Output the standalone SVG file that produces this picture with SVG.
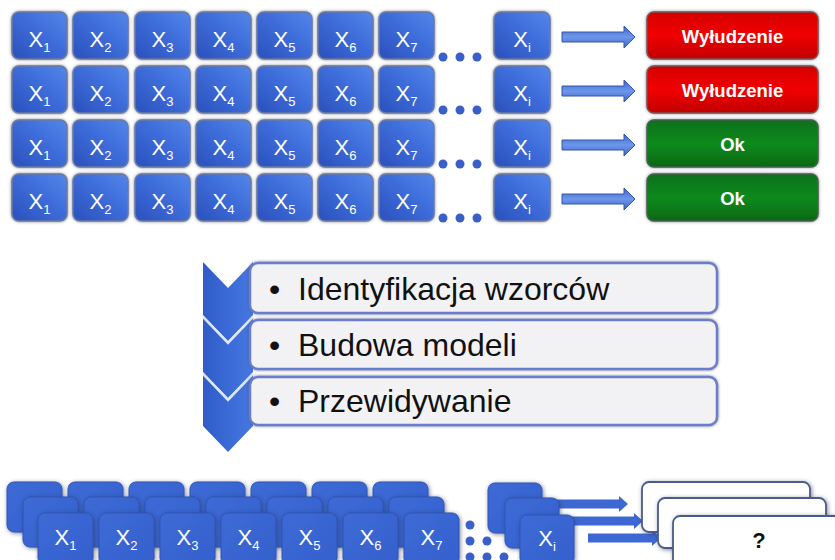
<svg xmlns="http://www.w3.org/2000/svg" width="835" height="560" viewBox="0 0 835 560">
<defs>
<linearGradient id="gBlue" x1="0" y1="1" x2="1" y2="0"><stop offset="0" stop-color="#2a50bc"/><stop offset="0.6" stop-color="#3f6fdc"/><stop offset="1" stop-color="#5486ea"/></linearGradient>
<linearGradient id="gBlue2" x1="0" y1="0" x2="1" y2="1"><stop offset="0" stop-color="#3d6ad6"/><stop offset="1" stop-color="#3460cc"/></linearGradient>
<linearGradient id="gRed" x1="0" y1="0" x2="0" y2="1"><stop offset="0" stop-color="#d40000"/><stop offset="0.5" stop-color="#f20000"/><stop offset="1" stop-color="#c00000"/></linearGradient>
<linearGradient id="gGreen" x1="0" y1="0" x2="0" y2="1"><stop offset="0" stop-color="#08701a"/><stop offset="0.5" stop-color="#0b8a1f"/><stop offset="1" stop-color="#066814"/></linearGradient>
<linearGradient id="gArrow" x1="0" y1="0" x2="0" y2="1"><stop offset="0" stop-color="#3e66c8"/><stop offset="0.5" stop-color="#6d97ec"/><stop offset="1" stop-color="#3e66c8"/></linearGradient>
<linearGradient id="gChev" x1="0" y1="0" x2="1" y2="0"><stop offset="0" stop-color="#2f5cc8"/><stop offset="1" stop-color="#4678e2"/></linearGradient>
<filter id="sh" x="-20%" y="-20%" width="140%" height="140%"><feDropShadow dx="0" dy="0" stdDeviation="1.6" flood-color="#404a60" flood-opacity="0.7"/></filter>
<filter id="sh2" x="-20%" y="-20%" width="140%" height="140%"><feDropShadow dx="1" dy="1" stdDeviation="2" flood-color="#303850" flood-opacity="0.6"/></filter>
</defs>
<style>
.bx{fill:url(#gBlue);stroke:#6c7aa0;stroke-width:1.5;filter:url(#sh)}
.bb{fill:url(#gBlue2);stroke:#2f55b8;stroke-width:1;filter:url(#sh2)}
.xt{font-family:"Liberation Sans",Arial,sans-serif;font-size:22px;fill:#fff;text-anchor:middle}
.sb{font-size:13px}
.red{fill:url(#gRed);stroke:#7a5050;stroke-width:1.5;filter:url(#sh)}
.grn{fill:url(#gGreen);stroke:#4a604a;stroke-width:1.5;filter:url(#sh)}
.rt{font-family:"Liberation Sans",Arial,sans-serif;font-size:18.5px;font-weight:bold;fill:#fff;text-anchor:middle}
.dot{fill:#3a5fc8}
.arr{fill:url(#gArrow);stroke:#3556a8;stroke-width:1}
.barr{fill:#3d68d4}
.lst{fill:#f2f2f4;stroke:#6a7ccc;stroke-width:2.5;filter:url(#sh)}
.lt{font-family:"Liberation Sans",Arial,sans-serif;font-size:32px;fill:#111}
.chev{fill:url(#gChev)}
.sep{fill:none;stroke:#dde6f8;stroke-width:2.5}
.wb{fill:#fff;stroke:#4a5c8c;stroke-width:1.8;filter:url(#sh2)}
.q{font-family:"Liberation Sans",Arial,sans-serif;font-size:22px;font-weight:bold;fill:#111;text-anchor:middle}
</style>
<rect width="835" height="560" fill="#ffffff"/>

<g id="connectors">
<polygon class="arr" points="562,32 624,32 624,26 635,37 624,48 624,42 562,42"/>
<polygon class="arr" points="562,86 624,86 624,80 635,91 624,102 624,96 562,96"/>
<polygon class="arr" points="562,140 624,140 624,134 635,145 624,156 624,150 562,150"/>
<polygon class="arr" points="562,194 624,194 624,188 635,199 624,210 624,204 562,204"/>
<polygon class="barr" points="540,499.5 619,499.5 619,496 628,504 619,512 619,508.5 540,508.5"/>
<polygon class="barr" points="555,516.5 634,516.5 634,513 643,521 634,529 634,525.5 555,525.5"/>
<polygon class="barr" points="588,533.5 652,533.5 652,530 661,538 652,546 652,542.5 588,542.5"/>
</g>

<g id="row1">
<g id="r1c1"><rect class="bx" x="12" y="12" width="55" height="47" rx="7"/><text class="xt" x="39.5" y="47">X<tspan class="sb" dy="5">1</tspan></text></g>
<g id="r1c2"><rect class="bx" x="73" y="12" width="55" height="47" rx="7"/><text class="xt" x="100.5" y="47">X<tspan class="sb" dy="5">2</tspan></text></g>
<g id="r1c3"><rect class="bx" x="135" y="12" width="55" height="47" rx="7"/><text class="xt" x="162.5" y="47">X<tspan class="sb" dy="5">3</tspan></text></g>
<g id="r1c4"><rect class="bx" x="196" y="12" width="55" height="47" rx="7"/><text class="xt" x="223.5" y="47">X<tspan class="sb" dy="5">4</tspan></text></g>
<g id="r1c5"><rect class="bx" x="257" y="12" width="55" height="47" rx="7"/><text class="xt" x="284.5" y="47">X<tspan class="sb" dy="5">5</tspan></text></g>
<g id="r1c6"><rect class="bx" x="318" y="12" width="55" height="47" rx="7"/><text class="xt" x="345.5" y="47">X<tspan class="sb" dy="5">6</tspan></text></g>
<g id="r1c7"><rect class="bx" x="379" y="12" width="55" height="47" rx="7"/><text class="xt" x="406.5" y="47">X<tspan class="sb" dy="5">7</tspan></text></g>
<g id="r1dots"><circle class="dot" cx="443" cy="57" r="4.5"/><circle class="dot" cx="460" cy="57" r="4.5"/><circle class="dot" cx="477" cy="57" r="4.5"/></g>
<g id="r1ci"><rect class="bx" x="494" y="12" width="56" height="47" rx="7"/><text class="xt" x="522" y="47">X<tspan class="sb" dy="5">i</tspan></text></g>
<g id="r1res"><rect class="red" x="647" y="12" width="171" height="47" rx="7"/><text class="rt" x="732.5" y="43">Wyłudzenie</text></g>
</g>

<g id="row2">
<g id="r2c1"><rect class="bx" x="12" y="66" width="55" height="47" rx="7"/><text class="xt" x="39.5" y="101">X<tspan class="sb" dy="5">1</tspan></text></g>
<g id="r2c2"><rect class="bx" x="73" y="66" width="55" height="47" rx="7"/><text class="xt" x="100.5" y="101">X<tspan class="sb" dy="5">2</tspan></text></g>
<g id="r2c3"><rect class="bx" x="135" y="66" width="55" height="47" rx="7"/><text class="xt" x="162.5" y="101">X<tspan class="sb" dy="5">3</tspan></text></g>
<g id="r2c4"><rect class="bx" x="196" y="66" width="55" height="47" rx="7"/><text class="xt" x="223.5" y="101">X<tspan class="sb" dy="5">4</tspan></text></g>
<g id="r2c5"><rect class="bx" x="257" y="66" width="55" height="47" rx="7"/><text class="xt" x="284.5" y="101">X<tspan class="sb" dy="5">5</tspan></text></g>
<g id="r2c6"><rect class="bx" x="318" y="66" width="55" height="47" rx="7"/><text class="xt" x="345.5" y="101">X<tspan class="sb" dy="5">6</tspan></text></g>
<g id="r2c7"><rect class="bx" x="379" y="66" width="55" height="47" rx="7"/><text class="xt" x="406.5" y="101">X<tspan class="sb" dy="5">7</tspan></text></g>
<g id="r2dots"><circle class="dot" cx="443" cy="110" r="4.5"/><circle class="dot" cx="460" cy="110" r="4.5"/><circle class="dot" cx="477" cy="110" r="4.5"/></g>
<g id="r2ci"><rect class="bx" x="494" y="66" width="56" height="47" rx="7"/><text class="xt" x="522" y="101">X<tspan class="sb" dy="5">i</tspan></text></g>
<g id="r2res"><rect class="red" x="647" y="66" width="171" height="47" rx="7"/><text class="rt" x="732.5" y="97">Wyłudzenie</text></g>
</g>

<g id="row3">
<g id="r3c1"><rect class="bx" x="12" y="120" width="55" height="47" rx="7"/><text class="xt" x="39.5" y="155">X<tspan class="sb" dy="5">1</tspan></text></g>
<g id="r3c2"><rect class="bx" x="73" y="120" width="55" height="47" rx="7"/><text class="xt" x="100.5" y="155">X<tspan class="sb" dy="5">2</tspan></text></g>
<g id="r3c3"><rect class="bx" x="135" y="120" width="55" height="47" rx="7"/><text class="xt" x="162.5" y="155">X<tspan class="sb" dy="5">3</tspan></text></g>
<g id="r3c4"><rect class="bx" x="196" y="120" width="55" height="47" rx="7"/><text class="xt" x="223.5" y="155">X<tspan class="sb" dy="5">4</tspan></text></g>
<g id="r3c5"><rect class="bx" x="257" y="120" width="55" height="47" rx="7"/><text class="xt" x="284.5" y="155">X<tspan class="sb" dy="5">5</tspan></text></g>
<g id="r3c6"><rect class="bx" x="318" y="120" width="55" height="47" rx="7"/><text class="xt" x="345.5" y="155">X<tspan class="sb" dy="5">6</tspan></text></g>
<g id="r3c7"><rect class="bx" x="379" y="120" width="55" height="47" rx="7"/><text class="xt" x="406.5" y="155">X<tspan class="sb" dy="5">7</tspan></text></g>
<g id="r3dots"><circle class="dot" cx="443" cy="164" r="4.5"/><circle class="dot" cx="460" cy="164" r="4.5"/><circle class="dot" cx="477" cy="164" r="4.5"/></g>
<g id="r3ci"><rect class="bx" x="494" y="120" width="56" height="47" rx="7"/><text class="xt" x="522" y="155">X<tspan class="sb" dy="5">i</tspan></text></g>
<g id="r3res"><rect class="grn" x="647" y="120" width="171" height="47" rx="7"/><text class="rt" x="732.5" y="151">Ok</text></g>
</g>

<g id="row4">
<g id="r4c1"><rect class="bx" x="12" y="174" width="55" height="47" rx="7"/><text class="xt" x="39.5" y="209">X<tspan class="sb" dy="5">1</tspan></text></g>
<g id="r4c2"><rect class="bx" x="73" y="174" width="55" height="47" rx="7"/><text class="xt" x="100.5" y="209">X<tspan class="sb" dy="5">2</tspan></text></g>
<g id="r4c3"><rect class="bx" x="135" y="174" width="55" height="47" rx="7"/><text class="xt" x="162.5" y="209">X<tspan class="sb" dy="5">3</tspan></text></g>
<g id="r4c4"><rect class="bx" x="196" y="174" width="55" height="47" rx="7"/><text class="xt" x="223.5" y="209">X<tspan class="sb" dy="5">4</tspan></text></g>
<g id="r4c5"><rect class="bx" x="257" y="174" width="55" height="47" rx="7"/><text class="xt" x="284.5" y="209">X<tspan class="sb" dy="5">5</tspan></text></g>
<g id="r4c6"><rect class="bx" x="318" y="174" width="55" height="47" rx="7"/><text class="xt" x="345.5" y="209">X<tspan class="sb" dy="5">6</tspan></text></g>
<g id="r4c7"><rect class="bx" x="379" y="174" width="55" height="47" rx="7"/><text class="xt" x="406.5" y="209">X<tspan class="sb" dy="5">7</tspan></text></g>
<g id="r4dots"><circle class="dot" cx="443" cy="218" r="4.5"/><circle class="dot" cx="460" cy="218" r="4.5"/><circle class="dot" cx="477" cy="218" r="4.5"/></g>
<g id="r4ci"><rect class="bx" x="494" y="174" width="56" height="47" rx="7"/><text class="xt" x="522" y="209">X<tspan class="sb" dy="5">i</tspan></text></g>
<g id="r4res"><rect class="grn" x="647" y="174" width="171" height="47" rx="7"/><text class="rt" x="732.5" y="205">Ok</text></g>
</g>

<g id="chevron">
<polygon class="chev" points="203,374 228,400 253,374 253,426 228,452 203,426"/>
<polygon class="chev" points="203,317 228,343 253,317 253,372 228,398 203,372"/>
<polygon class="chev" points="203,262 228,288 253,262 253,315 228,341 203,315"/>
<polyline class="sep" points="203,317 228,343 253,317"/>
<polyline class="sep" points="203,374 228,400 253,374"/>
</g>
<g id="step1"><rect class="lst" x="250" y="263" width="467" height="50" rx="8"/><text class="lt" x="269" y="300">•</text><text class="lt" x="298" y="300">Identyfikacja wzorców</text></g>
<g id="step2"><rect class="lst" x="250" y="320" width="467" height="49" rx="8"/><text class="lt" x="269" y="356">•</text><text class="lt" x="298" y="356">Budowa modeli</text></g>
<g id="step3"><rect class="lst" x="250" y="377" width="467" height="48" rx="8"/><text class="lt" x="269" y="412">•</text><text class="lt" x="298" y="412">Przewidywanie</text></g>

<g id="bottom-back">
<rect class="bb" x="7" y="482" width="55" height="50" rx="7"/>
<rect class="bb" x="68" y="482" width="55" height="50" rx="7"/>
<rect class="bb" x="129" y="482" width="55" height="50" rx="7"/>
<rect class="bb" x="190" y="482" width="55" height="50" rx="7"/>
<rect class="bb" x="251" y="482" width="55" height="50" rx="7"/>
<rect class="bb" x="312" y="482" width="55" height="50" rx="7"/>
<rect class="bb" x="373" y="482" width="55" height="50" rx="7"/>
</g>
<g id="bottom-mid">
<rect class="bb" x="23" y="497" width="55" height="50" rx="7"/>
<rect class="bb" x="84" y="497" width="55" height="50" rx="7"/>
<rect class="bb" x="145" y="497" width="55" height="50" rx="7"/>
<rect class="bb" x="206" y="497" width="55" height="50" rx="7"/>
<rect class="bb" x="267" y="497" width="55" height="50" rx="7"/>
<rect class="bb" x="328" y="497" width="55" height="50" rx="7"/>
<rect class="bb" x="389" y="497" width="55" height="50" rx="7"/>
</g>
<g id="bottom-front">
<g id="b1"><rect class="bb" x="38" y="513" width="55" height="52" rx="7"/><text class="xt" x="65.5" y="545">X<tspan class="sb" dy="5">1</tspan></text></g>
<g id="b2"><rect class="bb" x="99" y="513" width="55" height="52" rx="7"/><text class="xt" x="126.5" y="545">X<tspan class="sb" dy="5">2</tspan></text></g>
<g id="b3"><rect class="bb" x="160" y="513" width="55" height="52" rx="7"/><text class="xt" x="187.5" y="545">X<tspan class="sb" dy="5">3</tspan></text></g>
<g id="b4"><rect class="bb" x="221" y="513" width="55" height="52" rx="7"/><text class="xt" x="248.5" y="545">X<tspan class="sb" dy="5">4</tspan></text></g>
<g id="b5"><rect class="bb" x="282" y="513" width="55" height="52" rx="7"/><text class="xt" x="309.5" y="545">X<tspan class="sb" dy="5">5</tspan></text></g>
<g id="b6"><rect class="bb" x="343" y="513" width="55" height="52" rx="7"/><text class="xt" x="370.5" y="545">X<tspan class="sb" dy="5">6</tspan></text></g>
<g id="b7"><rect class="bb" x="404" y="513" width="55" height="52" rx="7"/><text class="xt" x="431.5" y="545">X<tspan class="sb" dy="5">7</tspan></text></g>
</g>
<g id="bottom-dots">
<circle class="dot" cx="470" cy="525" r="4.5"/>
<circle class="dot" cx="470" cy="541" r="4.5"/><circle class="dot" cx="487" cy="541" r="4.5"/>
<circle class="dot" cx="470" cy="557" r="4.5"/><circle class="dot" cx="487" cy="557" r="4.5"/><circle class="dot" cx="504" cy="557" r="4.5"/>
</g>
<g id="bottom-xi">
<rect class="bb" x="488" y="483" width="54" height="50" rx="7"/>
<rect class="bb" x="505" y="498" width="54" height="50" rx="7"/>
<rect class="bb" x="520" y="515" width="54" height="50" rx="7"/>
<text class="xt" x="547" y="546">X<tspan class="sb" dy="5">i</tspan></text>
</g>
<g id="results-unknown">
<g id="q1"><rect class="wb" x="642" y="482" width="168" height="50" rx="7"/><text class="q" x="726" y="514">?</text></g>
<g id="q2"><rect class="wb" x="658" y="498" width="168" height="50" rx="7"/><text class="q" x="742" y="530">?</text></g>
<g id="q3"><rect class="wb" x="673" y="516" width="175" height="50" rx="7"/><text class="q" x="759" y="548">?</text></g>
</g>
</svg>
